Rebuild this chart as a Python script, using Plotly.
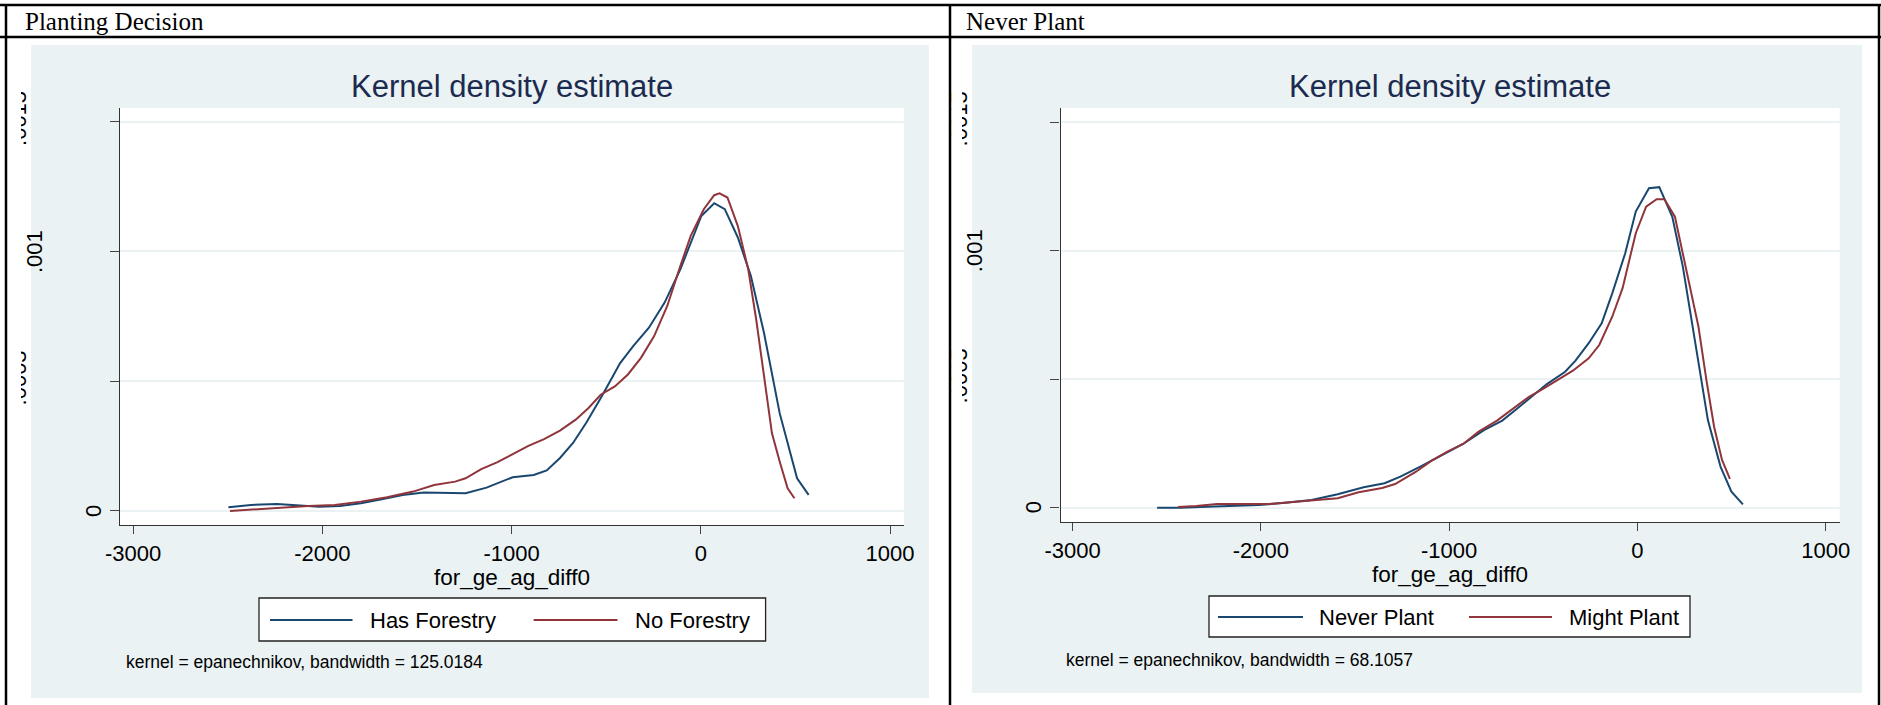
import plotly.graph_objects as go

# ---------------- data ----------------
left_has_x = [-2496, -2377, -2239, -2129, -2017, -1907, -1796, -1686, -1575, -1464, -1353, -1243,
              -1132, -994, -883, -814, -744, -675, -606, -523, -426, -357, -274, -191, -108, 3,
              71, 127, 196, 265, 334, 417, 509, 570]
left_has_y = [0.0000143, 0.0000232, 0.000027, 0.0000232, 0.0000167, 0.0000193, 0.0000296, 0.0000451,
              0.0000618, 0.0000708, 0.0000708, 0.0000683, 0.00009, 0.00013, 0.000139, 0.000156,
              0.000204, 0.000262, 0.000339, 0.000442, 0.00057, 0.000635, 0.000706, 0.000803,
              0.000931, 0.001137, 0.001186, 0.001163, 0.001054, 0.000905, 0.000687, 0.000377,
              0.000126, 0.0000618]
left_no_x = [-2488, -2350, -2212, -2073, -1934, -1796, -1658, -1520, -1409, -1298, -1243, -1160,
             -1077, -994, -911, -828, -744, -661, -593, -529, -454, -385, -316, -247, -177, -108,
             -53, 16, 71, 99, 141, 196, 251, 293, 334, 376, 417, 459, 495]
left_no_y = [0.0, 0.0000064, 0.0000143, 0.0000193, 0.0000232, 0.000036, 0.000053, 0.0000747, 0.0001,
             0.000113, 0.000126, 0.000161, 0.000187, 0.00022, 0.000251, 0.000277, 0.00031, 0.000352,
             0.000397, 0.000448, 0.00048, 0.000526, 0.00059, 0.000673, 0.00079, 0.000944, 0.00106,
             0.001163, 0.001217, 0.001224, 0.001208, 0.001098, 0.000931, 0.000738, 0.000519,
             0.0003, 0.000191, 0.0000877, 0.000049]

right_never_x = [-2551, -2425, -2287, -2148, -2009, -1870, -1731, -1592, -1454, -1343, -1259, -1148,
                 -1037, -926, -815, -718, -648, -565, -481, -384, -329, -259, -190, -134, -65, -9,
                 61, 116, 185, 241, 310, 374, 441, 499, 560]
right_never_y = [0.0, 0.0, 0.0000039, 0.0000078, 0.0000105, 0.0000195, 0.00003, 0.000052, 0.0000794,
                 0.000095, 0.000121, 0.000162, 0.000205, 0.000248, 0.000302, 0.000339, 0.00038,
                 0.00043, 0.000481, 0.000529, 0.000572, 0.00064, 0.000717, 0.000834, 0.00099,
                 0.001152, 0.001243, 0.001247, 0.001132, 0.000938, 0.000626, 0.000341, 0.00016,
                 0.0000623, 0.0000132]
right_might_x = [-2440, -2343, -2232, -2092, -1953, -1815, -1676, -1592, -1481, -1356, -1287, -1176,
                 -1093, -1009, -926, -843, -746, -663, -578, -495, -412, -343, -259, -203, -134, -79,
                 -9, 46, 102, 143, 199, 269, 324, 366, 407, 449, 491]
right_might_y = [0.0000027, 0.0000066, 0.0000144, 0.0000144, 0.0000144, 0.0000234, 0.00003, 0.0000366,
                 0.00006, 0.0000767, 0.0000922, 0.00014, 0.000183, 0.000218, 0.000248, 0.000296,
                 0.000339, 0.000383, 0.00043, 0.000465, 0.000504, 0.000533, 0.000581, 0.000633,
                 0.000743, 0.000854, 0.001068, 0.001171, 0.0012, 0.0012, 0.001132, 0.000899,
                 0.000704, 0.000497, 0.000315, 0.000186, 0.000112]

x_tickvals = [-3000, -2000, -1000, 0, 1000]
x_ticktext = ["-3000", "-2000", "-1000", "0", "1000"]
y_tickvals = [0, 0.0005, 0.001, 0.0015]
y_shown_text = ["0", ".001"]
y_clipped_vals = [0.0005, 0.0015]
y_clipped_text = [".0005", ".0015"]

panel_headers = ["Planting Decision", "Never Plant"]
panel_titles = ["Kernel density estimate", "Kernel density estimate"]
x_titles = ["for_ge_ag_diff0", "for_ge_ag_diff0"]
legend_names = [["Has Forestry", "No Forestry"], ["Never Plant", "Might Plant"]]
notes = ["kernel = epanechnikov, bandwidth = 125.0184", "kernel = epanechnikov, bandwidth = 68.1057"]

# ---------------- styling ----------------
W, H = 1881, 705
BLUE = "#1a476f"
RED = "#90353b"
BG = "#eaf2f3"
GRID = "#eaf2f3"
TITLE_C = "#1c2a4f"
SANS = "Liberation Sans, Arial, sans-serif"
SERIF = "Liberation Serif, Times New Roman, serif"


def px(p):
    return p / W


def py(p):
    return 1 - p / H


panels = [
    dict(plot=(120, 904, 108, 525), bg=(31, 929, 45, 698), xr=[-3069, 1074], yr=[-0.0000541, 0.001553],
         ytick=(93, 34), clip_pos=30, cover=(8, 21), header_x=23,
         legend_box=(259, 765.6, 598, 641), legend_y=620,
         legend_lines=[(270, 352.5), (533.6, 617.5)], legend_text=[367.5, 632.5],
         xtitle_y=577, note=(124, 662), tick_y=(511, 252)),
    dict(plot=(1060.5, 1839.7, 108, 522), bg=(972, 1862, 45, 693), xr=[-3064, 1074], yr=[-0.0000556, 0.001555],
         ytick=(1033.5, 974.5), clip_pos=971, cover=(952, 962), header_x=964,
         legend_box=(1209, 1690, 596, 637), legend_y=617,
         legend_lines=[(1218, 1303), (1469, 1552)], legend_text=[1317, 1567],
         xtitle_y=574, note=(1064, 660), tick_y=(507.7, 250.7)),
]

fig = go.Figure()

series = [
    [(left_has_x, left_has_y, BLUE), (left_no_x, left_no_y, RED)],
    [(right_never_x, right_never_y, BLUE), (right_might_x, right_might_y, RED)],
]

shapes = []
annotations = []
layout_axes = {}

for i, pnl in enumerate(panels):
    xa = "x" if i == 0 else "x2"
    ya = "y" if i == 0 else "y2"
    xkey = "xaxis" if i == 0 else "xaxis2"
    ykey = "yaxis" if i == 0 else "yaxis2"
    l, r, t, b = pnl["plot"]
    for (xs, ys, col), name in zip(series[i], legend_names[i]):
        fig.add_trace(go.Scatter(x=xs, y=ys, mode="lines", name=name, xaxis=xa, yaxis=ya,
                                 line=dict(color=col, width=2), showlegend=False, hoverinfo="skip"))
    layout_axes[xkey] = dict(domain=[px(l), px(r)], range=pnl["xr"], anchor=ya, automargin=False,
                             tickvals=x_tickvals, ticktext=x_ticktext, ticks="outside", ticklen=8,
                             tickwidth=1.3, tickcolor="#444", showline=True, linecolor="#333", linewidth=1.3,
                             showgrid=False, zeroline=False,
                             tickfont=dict(family=SANS, size=22, color="black"))
    layout_axes[ykey] = dict(domain=[py(b), py(t)], range=pnl["yr"], anchor=xa, automargin=False,
                             tickvals=y_tickvals, showticklabels=False, ticks="outside", ticklen=9,
                             tickwidth=1.3, tickcolor="#444", showline=True, linecolor="#333", linewidth=1.3,
                             showgrid=True, gridcolor=GRID, gridwidth=2, zeroline=False)
    # overlay axis carrying the partially hidden tick labels
    ykey3 = "yaxis3" if i == 0 else "yaxis4"
    ya3 = "y3" if i == 0 else "y4"
    layout_axes[ykey3] = dict(overlaying=ya, anchor="free", position=px(pnl["clip_pos"]), side="left",
                              automargin=False,
                              range=pnl["yr"], tickvals=y_clipped_vals, ticktext=y_clipped_text,
                              tickangle=-90, ticks="", showline=False, showgrid=False, zeroline=False,
                              tickfont=dict(family=SANS, size=22, color="black"))
    fig.add_trace(go.Scatter(x=[pnl["xr"][0]], y=[pnl["yr"][0]], mode="markers", xaxis=xa, yaxis=ya3,
                             marker=dict(size=1, opacity=0), showlegend=False, hoverinfo="skip"))

    bl, br, bt, bb = pnl["bg"]
    shapes.append(dict(type="rect", xref="paper", yref="paper", x0=px(bl), x1=px(br), y0=py(bb), y1=py(bt),
                       fillcolor=BG, line=dict(width=0), layer="below"))
    shapes.append(dict(type="rect", xref="paper", yref="paper", x0=px(l), x1=px(r), y0=py(b), y1=py(t),
                       fillcolor="white", line=dict(width=0), layer="below"))
    cl, cr = pnl["cover"]
    shapes.append(dict(type="rect", xref="paper", yref="paper", x0=px(cl), x1=px(cr), y0=py(700), y1=py(40),
                       fillcolor="white", line=dict(width=0), layer="above"))

    for k in range(2):
        annotations.append(dict(x=px(pnl["ytick"][k]), y=py(pnl["tick_y"][k]), xref="paper", yref="paper",
                                text=y_shown_text[k], showarrow=False, textangle=-90, xanchor="center",
                                yanchor="middle", font=dict(family=SANS, size=22, color="black")))

    annotations.append(dict(x=px(pnl["header_x"]), y=py(21), xref="paper", yref="paper", text=panel_headers[i],
                            showarrow=False, xanchor="left", yanchor="middle",
                            font=dict(family=SERIF, size=25, color="black")))
    annotations.append(dict(x=px((l + r) / 2), y=py(87), xref="paper", yref="paper", text=panel_titles[i],
                            showarrow=False, xanchor="center", yanchor="middle",
                            font=dict(family=SANS, size=31, color=TITLE_C)))
    annotations.append(dict(x=px((l + r) / 2), y=py(pnl["xtitle_y"]), xref="paper", yref="paper",
                            text=x_titles[i], showarrow=False, xanchor="center", yanchor="middle",
                            font=dict(family=SANS, size=22.5, color="black")))
    lbl, lbr, lbt, lbb = pnl["legend_box"]
    shapes.append(dict(type="rect", xref="paper", yref="paper", x0=px(lbl), x1=px(lbr), y0=py(lbb), y1=py(lbt),
                       fillcolor="white", line=dict(color="#222", width=1.3), layer="above"))
    for (x0, x1), col, tx, name in zip(pnl["legend_lines"], [BLUE, RED], pnl["legend_text"], legend_names[i]):
        shapes.append(dict(type="line", xref="paper", yref="paper", x0=px(x0), x1=px(x1),
                           y0=py(pnl["legend_y"]), y1=py(pnl["legend_y"]), line=dict(color=col, width=2),
                           layer="above"))
        annotations.append(dict(x=px(tx), y=py(pnl["legend_y"]), xref="paper", yref="paper", text=name,
                                showarrow=False, xanchor="left", yanchor="middle",
                                font=dict(family=SANS, size=22, color="black")))
    annotations.append(dict(x=px(pnl["note"][0]), y=py(pnl["note"][1]), xref="paper", yref="paper",
                            text=notes[i], showarrow=False, xanchor="left", yanchor="middle",
                            font=dict(family=SANS, size=17.5, color="black")))

for (x0, y0, x1, y1) in [(0, 5, W, 5), (0, 37, W, 37), (6, 5, 6, H), (950, 5, 950, H), (1879, 5, 1879, H)]:
    shapes.append(dict(type="line", xref="paper", yref="paper", x0=px(x0), x1=px(x1), y0=py(y0), y1=py(y1),
                       line=dict(color="black", width=2.5), layer="above"))

fig.update_layout(width=W, height=H, autosize=False,
                  margin=dict(l=0, r=0, t=0, b=0, pad=0, autoexpand=False),
                  paper_bgcolor="white", plot_bgcolor="white", shapes=shapes, annotations=annotations,
                  showlegend=False, **layout_axes)

fig.write_html("out.html", config={"displayModeBar": False},
               post_script="document.body.style.margin='0';document.body.style.overflow='hidden';")
